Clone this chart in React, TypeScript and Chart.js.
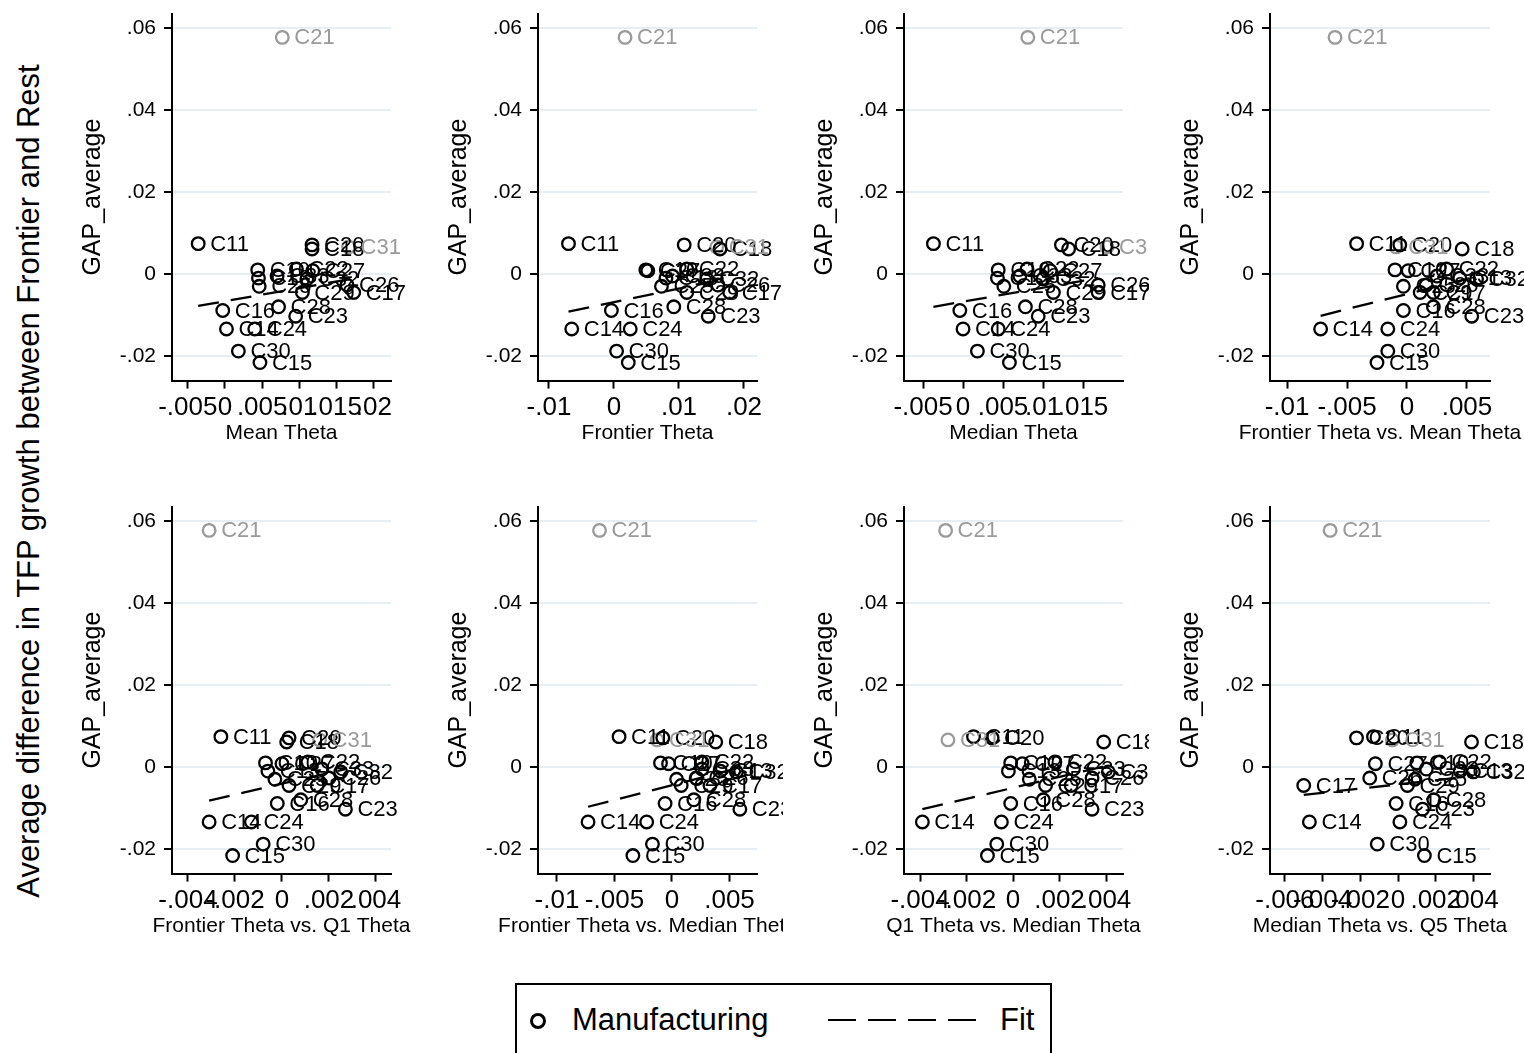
import React, { useEffect, useRef } from "react";
import { Chart, registerables } from "chart.js";

Chart.register(...registerables);

const FONT = '"Liberation Sans", Arial, Helvetica, sans-serif';
Chart.defaults.font.family = FONT;

// ---------------- data ----------------
const sectors = ["C10", "C11", "C13", "C14", "C15", "C16", "C17", "C18", "C20", "C21", "C22", "C23", "C24", "C25", "C26", "C27", "C28", "C29", "C30", "C31", "C32", "C33"];
const graySectors = ["C21", "C31"];
const gapAverage = [0.0010, 0.0074, -0.0010, -0.0134, -0.0216, -0.0089, -0.0045, 0.0061, 0.0071, 0.0577, 0.0012, -0.0103, -0.0134, -0.0030, -0.0027, 0.0008, -0.0080, -0.0045, -0.0188, 0.0066, -0.0012, -0.0005];

const meanTheta = [0.0044, -0.0036, 0.0045, 0.0002, 0.0047, -0.0003, 0.0173, 0.0117, 0.0117, 0.0077, 0.0096, 0.0095, 0.0040, 0.0046, 0.0164, 0.0118, 0.0072, 0.0104, 0.0018, 0.0166, 0.0110, 0.0070];
const frontierTheta = [0.0049, -0.0070, 0.0080, -0.0065, 0.0022, -0.0004, 0.0178, 0.0163, 0.0108, 0.0017, 0.0112, 0.0145, 0.0025, 0.0073, 0.0160, 0.0052, 0.0092, 0.0112, 0.0004, 0.0158, 0.0143, 0.0090];
const medianTheta = [0.0044, -0.0037, 0.0043, 0.0000, 0.0058, -0.0004, 0.0169, 0.0132, 0.0123, 0.0081, 0.0080, 0.0094, 0.0044, 0.0051, 0.0169, 0.0109, 0.0078, 0.0113, 0.0018, 0.0180, 0.0100, 0.0071];
const frontierVsMean = [-0.0010, -0.0042, 0.0044, -0.0072, -0.0025, -0.0003, 0.0022, 0.0046, -0.0006, -0.0060, 0.0033, 0.0054, -0.0016, -0.0003, 0.0016, 0.0001, 0.0022, 0.0011, -0.0016, -0.0009, 0.0058, 0.0025];
const frontierVsQ1 = [-0.0007, -0.0026, -0.0006, -0.0031, -0.0021, -0.0002, 0.0015, 0.0002, 0.0003, -0.0031, 0.0011, 0.0027, -0.0013, -0.0003, 0.0020, 0.0000, 0.0008, 0.0003, -0.0008, 0.0016, 0.0025, 0.0017];
const frontierVsMedian = [-0.0010, -0.0046, 0.0042, -0.0073, -0.0034, -0.0006, 0.0033, 0.0038, -0.0008, -0.0063, 0.0026, 0.0059, -0.0022, 0.0004, 0.0021, -0.0003, 0.0019, 0.0008, -0.0017, -0.0013, 0.0056, 0.0026];
const q1VsMedian = [-0.0001, -0.0017, -0.0002, -0.0039, -0.0011, -0.0001, 0.0025, 0.0039, -0.0009, -0.0029, 0.0018, 0.0034, -0.0005, 0.0007, 0.0034, 0.0004, 0.0013, 0.0014, -0.0007, -0.0028, 0.0041, 0.0026];
const medianVsQ5 = [0.0010, -0.0013, 0.0033, -0.0047, 0.0014, -0.0001, -0.0050, 0.0039, -0.0022, -0.0036, 0.0022, 0.0013, 0.0001, 0.0009, -0.0015, -0.0012, 0.0019, 0.0005, -0.0011, -0.0003, 0.0040, 0.0015];

// fitted line end points: [x1, y1, x2, y2]
const fitMean = [-0.0036, -0.0078, 0.0173, -0.0011];
const fitFrontier = [-0.0070, -0.0092, 0.0178, -0.0010];
const fitMedian = [-0.0037, -0.0080, 0.0169, -0.0010];
const fitFrontierVsMean = [-0.0072, -0.0102, 0.0058, -0.0006];
const fitFrontierVsQ1 = [-0.0031, -0.0082, 0.0027, -0.0005];
const fitFrontierVsMedian = [-0.0073, -0.0097, 0.0059, -0.0002];
const fitQ1VsMedian = [-0.0039, -0.0103, 0.0041, 0.0004];
const fitMedianVsQ5 = [-0.0050, -0.0068, 0.0040, -0.0022];

// tick labels
const yTicks = [-0.02, 0, 0.02, 0.04, 0.06];
const ticksMean = [-0.005, 0, 0.005, 0.01, 0.015, 0.02];
const ticksFrontier = [-0.01, 0, 0.01, 0.02];
const ticksMedian = [-0.005, 0, 0.005, 0.01, 0.015];
const ticksFrontierVsMean = [-0.01, -0.005, 0, 0.005];
const ticksFrontierVsQ1 = [-0.004, -0.002, 0, 0.002, 0.004];
const ticksFrontierVsMedian = [-0.01, -0.005, 0, 0.005];
const ticksQ1VsMedian = [-0.004, -0.002, 0, 0.002, 0.004];
const ticksMedianVsQ5 = [-0.006, -0.004, -0.002, 0, 0.002, 0.004];

const yTitle = "GAP_average";
const overallTitle = "Average difference in TFP growth between Frontier and Rest";
const legendLabels = ["Manufacturing", "Fit"];

const panels = [
  { title: "Mean Theta", x: meanTheta, ticks: ticksMean, fit: fitMean, min: -0.00712, max: 0.02231 },
  { title: "Frontier Theta", x: frontierTheta, ticks: ticksFrontier, fit: fitFrontier, min: -0.01169, max: 0.022 },
  { title: "Median Theta", x: medianTheta, ticks: ticksMedian, fit: fitMedian, min: -0.00738, max: 0.02 },
  { title: "Frontier Theta vs. Mean Theta", x: frontierVsMean, ticks: ticksFrontierVsMean, fit: fitFrontierVsMean, min: -0.01142, max: 0.00692 },
  { title: "Frontier Theta vs. Q1 Theta", x: frontierVsQ1, ticks: ticksFrontierVsQ1, fit: fitFrontierVsQ1, min: -0.00468, max: 0.00464 },
  { title: "Frontier Theta vs. Median Theta", x: frontierVsMedian, ticks: ticksFrontierVsMedian, fit: fitFrontierVsMedian, min: -0.01165, max: 0.00739 },
  { title: "Q1 Theta vs. Median Theta", x: q1VsMedian, ticks: ticksQ1VsMedian, fit: fitQ1VsMedian, min: -0.00469, max: 0.00473 },
  { title: "Median Theta vs. Q5 Theta", x: medianVsQ5, ticks: ticksMedianVsQ5, fit: fitMedianVsQ5, min: -0.00679, max: 0.00488 },
];

// ---------------- layout ----------------
const COL_LEFT = [60, 426, 792, 1158];
const COL_WIDTH = [357, 357, 357, 366];
const ROW_TOP = [0, 493];
const CANVAS_H = 450;
const Y_SCALE_W = 112;
const PAD_TOP = 13.6;
const AREA_H = 367;
const AREA_W = [219, 219, 219, 220];
const X_TITLE_Y = 433;

const fmt = (v: number) => {
  const s = String(Number(Number(v).toFixed(6)));
  return s.replace(/^(-?)0\./, "$1.");
};

const pointLabelPlugin = {
  id: "pointLabels",
  afterDatasetsDraw(chart: any) {
    const { ctx } = chart;
    ctx.save();
    ctx.font = `22px ${FONT}`;
    ctx.textBaseline = "middle";
    ctx.textAlign = "left";
    chart.data.datasets.forEach((ds: any, i: number) => {
      if (!ds.pointLabels) return;
      const meta = chart.getDatasetMeta(i);
      ctx.fillStyle = ds.borderColor;
      meta.data.forEach((el: any, j: number) => {
        ctx.fillText(ds.pointLabels[j], el.x + 12, el.y + 1);
      });
    });
    ctx.restore();
  },
};

const xTitlePlugin = {
  id: "xTitle",
  afterDraw(chart: any) {
    const { ctx, chartArea } = chart;
    const text = chart.options.plugins.xTitle?.text;
    if (!text) return;
    ctx.save();
    ctx.font = `21px ${FONT}`;
    ctx.fillStyle = "#000000";
    ctx.textAlign = "center";
    ctx.textBaseline = "middle";
    ctx.fillText(text, (chartArea.left + chartArea.right) / 2, X_TITLE_Y);
    ctx.restore();
  },
};

function Panel({ idx }: { idx: number }) {
  const ref = useRef<HTMLCanvasElement | null>(null);
  const p = panels[idx];
  const col = idx % 4;
  const row = Math.floor(idx / 4);
  const width = COL_WIDTH[col];
  useEffect(() => {
    if (!ref.current) return;
    const black: any[] = [];
    const blackLabels: string[] = [];
    const gray: any[] = [];
    const grayLabels: string[] = [];
    sectors.forEach((s, i) => {
      const pt = { x: p.x[i], y: gapAverage[i] };
      if (graySectors.includes(s)) {
        gray.push(pt);
        grayLabels.push(s);
      } else {
        black.push(pt);
        blackLabels.push(s);
      }
    });
    const padRight = width - Y_SCALE_W - AREA_W[col];
    const xScaleH = CANVAS_H - PAD_TOP - AREA_H;
    const chart = new Chart(ref.current, {
      type: "scatter",
      data: {
        datasets: [
          {
            label: "Fit",
            data: [
              { x: p.fit[0], y: p.fit[1] },
              { x: p.fit[2], y: p.fit[3] },
            ],
            showLine: true,
            borderColor: "#000000",
            borderWidth: 2.3,
            borderDash: [21, 12],
            pointRadius: 0,
            fill: false,
          } as any,
          {
            label: "Manufacturing",
            data: black,
            pointLabels: blackLabels,
            borderColor: "#000000",
            backgroundColor: "rgba(0,0,0,0)",
            pointRadius: 6.3,
            pointBorderWidth: 2.3,
            borderWidth: 2.3,
          } as any,
          {
            label: "Other",
            data: gray,
            pointLabels: grayLabels,
            borderColor: "#9a9a9a",
            backgroundColor: "rgba(0,0,0,0)",
            pointRadius: 6.3,
            pointBorderWidth: 2.3,
            borderWidth: 2.3,
          } as any,
        ],
      },
      options: {
        animation: false,
        responsive: false,
        events: [],
        layout: { padding: { top: PAD_TOP, right: padRight, left: 0, bottom: 0 } },
        plugins: { legend: { display: false }, tooltip: { enabled: false }, xTitle: { text: p.title } },
        scales: {
          x: {
            type: "linear",
            min: p.min,
            max: p.max,
            afterBuildTicks: (s: any) => {
              s.ticks = p.ticks.map((v) => ({ value: v }));
            },
            afterFit: (s: any) => {
              s.height = xScaleH;
              s.paddingLeft = 0;
              s.paddingRight = 0;
            },
            ticks: {
              callback: (v: any) => fmt(v),
              autoSkip: false,
              maxRotation: 0,
              minRotation: 0,
              color: "#000000",
              font: { size: 26 },
              padding: 4,
            },
            grid: { drawOnChartArea: false, drawTicks: true, tickLength: 8, tickColor: "#000000", tickWidth: 2 },
            border: { display: true, color: "#000000", width: 2 },
            title: { display: false },
          },
          y: {
            type: "linear",
            min: -0.026,
            max: 0.0635,
            afterBuildTicks: (s: any) => {
              s.ticks = yTicks.map((v) => ({ value: v }));
            },
            afterFit: (s: any) => {
              s.width = Y_SCALE_W;
              s.paddingTop = 0;
              s.paddingBottom = 0;
            },
            ticks: {
              callback: (v: any) => fmt(v),
              autoSkip: false,
              color: "#000000",
              font: { size: 21 },
              padding: 8,
            },
            grid: { color: "#e6eef1", lineWidth: 2, drawTicks: true, tickLength: 8, tickColor: "#000000", tickWidth: 2 },
            border: { display: true, color: "#000000", width: 2 },
            title: { display: true, text: yTitle, color: "#000000", font: { size: 25 }, padding: { top: 18, bottom: 0 } },
          },
        },
      },
      plugins: [pointLabelPlugin, xTitlePlugin],
    } as any);
    return () => chart.destroy();
  }, [idx]);
  return (
    <canvas
      ref={ref}
      width={width}
      height={CANVAS_H}
      style={{ position: "absolute", left: COL_LEFT[col], top: ROW_TOP[row], width, height: CANVAS_H }}
    />
  );
}

const dashes = [0, 1, 2, 3];

export default function App() {
  return (
    <div style={{ position: "absolute", left: 0, top: 0, width: 1524, height: 1053, overflow: "hidden", background: "#ffffff", fontFamily: FONT }}>
      <div
        style={{
          position: "absolute",
          left: 28,
          top: 481,
          transform: "translate(-50%, -50%) rotate(-90deg)",
          whiteSpace: "nowrap",
          fontSize: 31,
          color: "#000",
          lineHeight: 1,
        }}
      >
        {overallTitle}
      </div>
      {panels.map((_, i) => (
        <Panel key={i} idx={i} />
      ))}
      <div
        style={{
          position: "absolute",
          left: 515,
          top: 983,
          width: 537,
          height: 100,
          border: "2px solid #000",
          boxSizing: "border-box",
          background: "#fff",
        }}
      >
        <div
          style={{
            position: "absolute",
            left: 12.5,
            top: 27.5,
            width: 10,
            height: 10,
            borderRadius: "50%",
            border: "3px solid #000",
          }}
        />
        <div style={{ position: "absolute", left: 55, top: 19, fontSize: 31, lineHeight: 1, whiteSpace: "nowrap" }}>{legendLabels[0]}</div>
        {dashes.map((d) => (
          <div
            key={d}
            style={{
              position: "absolute",
              left: 311 + d * 40,
              top: 33.5,
              width: 28,
              height: 2.5,
              background: "#000",
            }}
          />
        ))}
        <div style={{ position: "absolute", left: 483, top: 19, fontSize: 31, lineHeight: 1, whiteSpace: "nowrap" }}>{legendLabels[1]}</div>
      </div>
    </div>
  );
}
